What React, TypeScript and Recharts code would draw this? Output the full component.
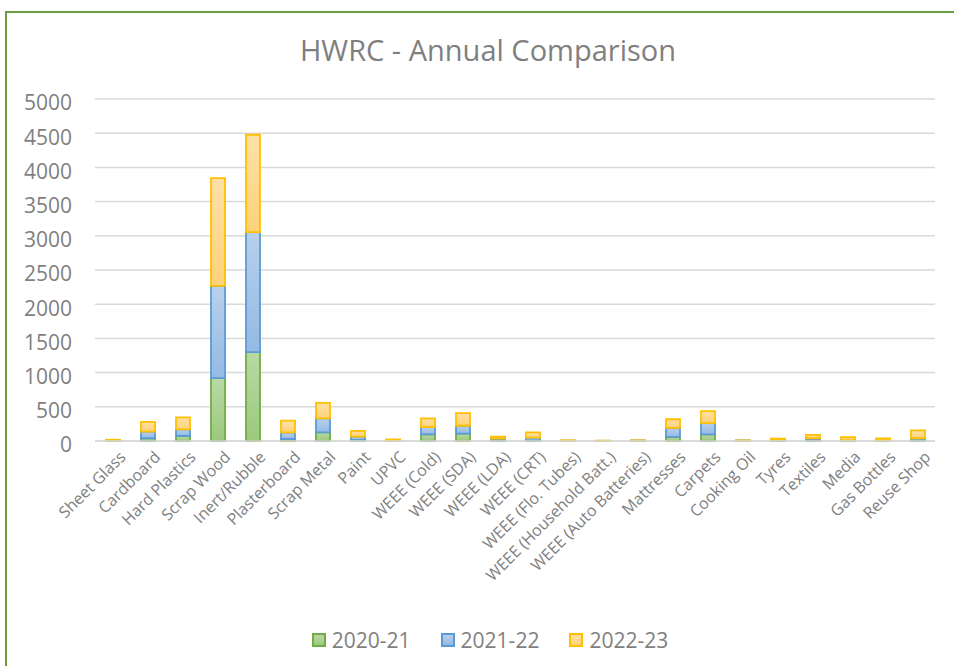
import { BarChart, Bar, XAxis, YAxis, CartesianGrid, Legend } from 'recharts'

const categories = [
  'Sheet Glass', 'Cardboard', 'Hard Plastics', 'Scrap Wood', 'Inert/Rubble', 'Plasterboard',
  'Scrap Metal', 'Paint', 'UPVC', 'WEEE (Cold)', 'WEEE (SDA)', 'WEEE (LDA)', 'WEEE (CRT)',
  'WEEE (Flo. Tubes)', 'WEEE (Household Batt.)', 'WEEE (Auto Batteries)', 'Mattresses',
  'Carpets', 'Cooking Oil', 'Tyres', 'Textiles', 'Media', 'Gas Bottles', 'Reuse Shop',
]

const y2020 = [3, 40, 73, 918, 1299, 29, 127, 15, 0, 97, 107, 10, 10, 2, 1, 3, 60, 97, 5, 5, 15, 5, 3, 10]
const y2021 = [5, 98, 98, 1349, 1755, 98, 205, 50, 5, 107, 116, 25, 40, 3, 2, 5, 132, 165, 2, 10, 25, 5, 5, 30]
const y2022 = [10, 141, 175, 1575, 1423, 171, 224, 83, 18, 126, 184, 30, 76, 5, 2, 2, 126, 175, 1, 20, 50, 45, 30, 115]

const yTicks = [0, 500, 1000, 1500, 2000, 2500, 3000, 3500, 4000, 4500, 5000]

const SERIES = [
  { key: '2020-21', stroke: '#70AD47', top: '#B9D9A4', bottom: '#9CC97D', grad: 'gGreen' },
  { key: '2021-22', stroke: '#5B9BD5', top: '#B8D0EC', bottom: '#94BAE4', grad: 'gBlue' },
  { key: '2022-23', stroke: '#FFC000', top: '#FFE0A6', bottom: '#FFD27A', grad: 'gYellow' },
]

const data = categories.map((name, i) => ({
  name,
  '2020-21': y2020[i],
  '2021-22': y2021[i],
  '2022-23': y2022[i],
}))

const FONT = '"Open Sans", sans-serif'

function XTick({ x, y, payload }: any) {
  return (
    <g transform={`translate(${x + 6},${y + 1})`}>
      <text
        x={0}
        y={0}
        dy="0.71em"
        textAnchor="end"
        transform="rotate(-45)"
        fill="#808080"
        fontSize={16}
        fontFamily={FONT}
      >
        {payload.value}
      </text>
    </g>
  )
}

function LegendContent() {
  return (
    <div style={{ display: 'flex', justifyContent: 'center', gap: 30, paddingLeft: 10, height: 36, alignItems: 'center' }}>
      {SERIES.map(s => (
        <div key={s.key} style={{ display: 'flex', alignItems: 'center' }}>
          <span
            style={{
              width: 10, height: 10, border: `2px solid ${s.stroke}`,
              background: `linear-gradient(${s.top}, ${s.bottom})`, marginRight: 6,
            }}
          />
          <span style={{ fontSize: 21, color: '#7F7F7F', fontFamily: FONT }}>{s.key}</span>
        </div>
      ))}
    </div>
  )
}

export default function App() {
  return (
    <div style={{ position: 'absolute', left: 0, top: 0, width: 954, height: 666, overflow: 'hidden', background: '#fff' }}>
      <div
        style={{
          position: 'absolute', left: 5, top: 11, width: 975, height: 680,
          border: '2px solid #6A9E45', boxSizing: 'border-box',
        }}
      />
      <div
        style={{
          position: 'absolute', left: 0, top: 30, width: 976, textAlign: 'center',
          fontSize: 29, color: '#7F7F7F', fontFamily: FONT,
        }}
      >
        HWRC - Annual Comparison
      </div>
      <div style={{ position: 'absolute', left: 0, top: 0 }}>
        <BarChart width={954} height={666} data={data} margin={{ top: 99, right: 19, left: 35, bottom: 8 }}>
          <defs>
            {SERIES.map(s => (
              <linearGradient key={s.grad} id={s.grad} x1="0" y1="0" x2="0" y2="1">
                <stop offset="0%" stopColor={s.top} />
                <stop offset="100%" stopColor={s.bottom} />
              </linearGradient>
            ))}
          </defs>
          <CartesianGrid vertical={false} stroke="#D9D9D9" strokeWidth={1.5} />
          <XAxis
            dataKey="name"
            interval={0}
            height={181}
            tick={<XTick />}
            tickLine={false}
            axisLine={{ stroke: '#D9D9D9', strokeWidth: 1.5 }}
          />
          <YAxis
            width={60}
            domain={[0, 5000]}
            ticks={yTicks}
            tickLine={false}
            axisLine={false}
            tickMargin={17}
            tick={{ fontSize: 21, fill: '#7F7F7F', fontFamily: FONT, dy: 4 }}
          />
          <Legend verticalAlign="bottom" content={<LegendContent />} />
          {SERIES.map(s => (
            <Bar
              key={s.key}
              dataKey={s.key}
              stackId="a"
              barSize={14}
              fill={`url(#${s.grad})`}
              stroke={s.stroke}
              strokeWidth={1.8}
              isAnimationActive={false}
            />
          ))}
        </BarChart>
      </div>
    </div>
  )
}
